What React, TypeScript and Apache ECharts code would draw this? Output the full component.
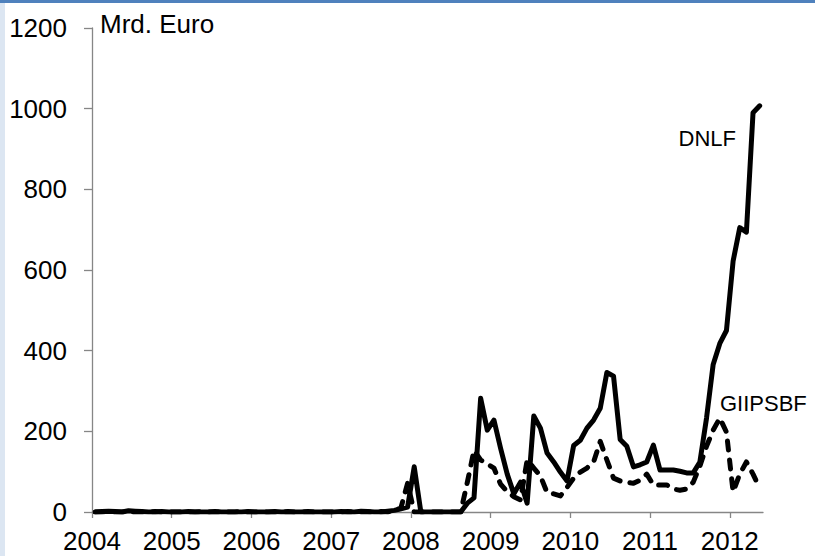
import { useEffect, useRef } from "react";
import * as echarts from "echarts";

// Monthly data, Jan 2004 .. May 2012 (Mrd. Euro)
const startYear = 2004;
const yearTicks = [2004, 2005, 2006, 2007, 2008, 2009, 2010, 2011, 2012];
const yTicks = [0, 200, 400, 600, 800, 1000, 1200];

const dnlf = [
  0, 1, 2, 1, 0, 3, 2, 1, 0, 0, 1, 0, // 2004
  0, 0, 1, 0, 0, 0, 1, 0, 0, 0, 0, 1, // 2005
  0, 0, 0, 1, 0, 0, 0, 0, 1, 0, 0, 0, // 2006
  0, 1, 0, 0, 2, 1, 0, 0, 2, 4, 8, 12, // 2007
  112, 0, 0, 0, 0, 0, 0, 0, 22, 35, 282, 203, // 2008
  228, 158, 94, 45, 74, 22, 238, 208, 146, 124, 99, 77, // 2009
  165, 178, 208, 228, 257, 346, 337, 180, 163, 112, 117, 124, // 2010
  166, 104, 104, 104, 101, 97, 97, 124, 233, 366, 418, 450, // 2011
  622, 705, 694, 990, 1007, // 2012
];

const giipsbf = [
  0, 0, 1, 0, 0, 1, 0, 0, 0, 1, 0, 0, // 2004
  0, 0, 0, 0, 1, 0, 0, 0, 0, 0, 1, 0, // 2005
  0, 0, 0, 0, 0, 1, 0, 0, 0, 0, 0, 0, // 2006
  0, 0, 1, 0, 0, 0, 0, 1, 0, 4, 10, 71, // 2007
  0, 0, 0, 0, 0, 0, 0, 0, 74, 153, 129, 119, // 2008
  109, 69, 50, 38, 30, 129, 109, 89, 48, 45, 40, 61, // 2009
  84, 99, 109, 124, 175, 129, 84, 77, 74, 71, 79, 94, // 2010
  67, 67, 67, 57, 54, 57, 74, 114, 163, 203, 233, 198, // 2011
  50, 94, 124, 94, 59, // 2012
];

const unitLabel = "Mrd. Euro";
const seriesNames = ["DNLF", "GIIPSBF"];

const FONT = "'Liberation Sans', Arial, sans-serif";

const toPairs = (arr: number[]) =>
  arr.map((v, i) => [startYear + (i + 0.5) / 12, v]);

export default function App() {
  const ref = useRef<HTMLDivElement>(null);
  useEffect(() => {
    if (!ref.current) return;
    const chart = echarts.init(ref.current, null, { renderer: "svg" });
    const xMax = startYear + dnlf.length / 12;
    chart.setOption({
      animation: false,
      backgroundColor: "#ffffff",
      grid: { left: 92, right: 52, top: 28, bottom: 44 },
      xAxis: {
        type: "value",
        min: startYear,
        max: xMax,
        interval: 1,
        splitLine: { show: false },
        axisLine: { show: true, lineStyle: { color: "#868686", width: 1.3 } },
        axisTick: {
          show: true,
          length: 6,
          customValues: yearTicks,
          lineStyle: { color: "#868686", width: 1.3 },
        },
        axisLabel: {
          customValues: yearTicks,
          formatter: (v: number) => String(Math.round(v)),
          color: "#000",
          fontSize: 26,
          fontFamily: FONT,
          margin: 16,
        },
      },
      yAxis: {
        type: "value",
        min: 0,
        max: 1200,
        interval: 200,
        splitLine: { show: false },
        axisLine: { show: true, lineStyle: { color: "#868686", width: 1.3 } },
        axisTick: {
          show: true,
          length: 8,
          customValues: yTicks,
          lineStyle: { color: "#868686", width: 1.3 },
        },
        axisLabel: {
          customValues: yTicks,
          formatter: (v: number) => String(Math.round(v)),
          color: "#000",
          fontSize: 26,
          fontFamily: FONT,
          margin: 25,
        },
      },
      series: [
        {
          name: seriesNames[0],
          type: "line",
          data: toPairs(dnlf),
          showSymbol: false,
          symbol: "none",
          lineStyle: { color: "#000", width: 5, join: "round", cap: "round" },
          z: 2,
        },
        {
          name: seriesNames[1],
          type: "line",
          data: toPairs(giipsbf),
          showSymbol: false,
          symbol: "none",
          lineStyle: {
            color: "#000",
            width: 5,
            type: [9, 10],
            cap: "round",
            join: "round",
          },
          z: 3,
        },
      ],
      graphic: [
        { type: "rect", left: 0, top: 0, shape: { width: 815, height: 3 }, style: { fill: "#4f81bd" }, silent: true },
        { type: "rect", left: 0, top: 3, shape: { width: 5, height: 553 }, style: { fill: "#dce6f2" }, silent: true },
        {
          type: "text",
          x: 100,
          y: 24,
          style: { text: unitLabel, font: `26px ${FONT}`, fill: "#000", textAlign: "left", textVerticalAlign: "middle" },
        },
        {
          type: "text",
          x: 736,
          y: 138,
          style: { text: seriesNames[0], font: `22px ${FONT}`, fill: "#000", textAlign: "right", textVerticalAlign: "middle" },
        },
        {
          type: "text",
          x: 720,
          y: 403,
          style: { text: seriesNames[1], font: `22px ${FONT}`, fill: "#000", textAlign: "left", textVerticalAlign: "middle" },
        },
      ],
    });
    return () => chart.dispose();
  }, []);
  return (
    <div
      ref={ref}
      style={{ position: "absolute", left: 0, top: 0, width: 815, height: 556, background: "#fff" }}
    />
  );
}
